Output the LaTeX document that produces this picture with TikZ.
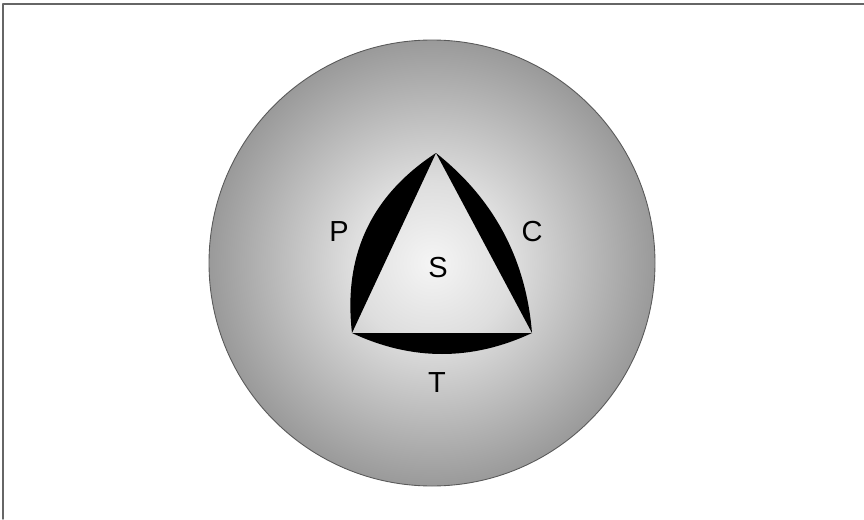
\documentclass[tikz,border=0pt]{standalone}
\usepackage{fontspec}
\setmainfont{Liberation Sans}
\pgfdeclareradialshading{ballshade}{\pgfpoint{0bp}{0bp}}{%
  color(0bp)=(black!4); color(9bp)=(black!13); color(18bp)=(black!28);
  color(27bp)=(black!43); color(35.4bp)=(black!56); color(50bp)=(black!56)}
\begin{document}
\begin{tikzpicture}[line join=round, line cap=round,
	lbl/.style={inner sep=0pt, font=\fontsize{16.5}{19}\selectfont}]
	\useasboundingbox (0,0) rectangle (17.28,10.38);
	% frame
	\draw[black!60, line width=0.8pt] (0.06,0)--(0.06,10.30)--(17.28,10.30);
	% sphere
	\shade[shading=ballshade] (8.64,5.12) circle (4.46);
	\draw[black!65, line width=0.5pt] (8.64,5.12) circle (4.46);
	% triangle corners
	\coordinate (a) at (8.72,7.32);
	\coordinate (b) at (7.04,3.72);
	\coordinate (c) at (10.64,3.72);
	% crescents
	\fill[black] (b)--(a) .. controls (7.42,6.47) and (6.86,5.27) .. (b)--cycle;
	\fill[black] (a)--(c) .. controls (10.52,5.20) and (9.88,6.40) .. (a)--cycle;
	\fill[black] (c)--(b) .. controls (8.24,3.16) and (9.44,3.16) .. (c)--cycle;
	% labels
	\node[lbl] (p) at (6.78,5.74) {P};
	\node[lbl] (cc) at (10.64,5.74) {C};
	\node[lbl] (s) at (8.76,5.02) {S};
	\node[lbl] (t) at (8.74,2.72) {T};
\end{tikzpicture}
\end{document}
